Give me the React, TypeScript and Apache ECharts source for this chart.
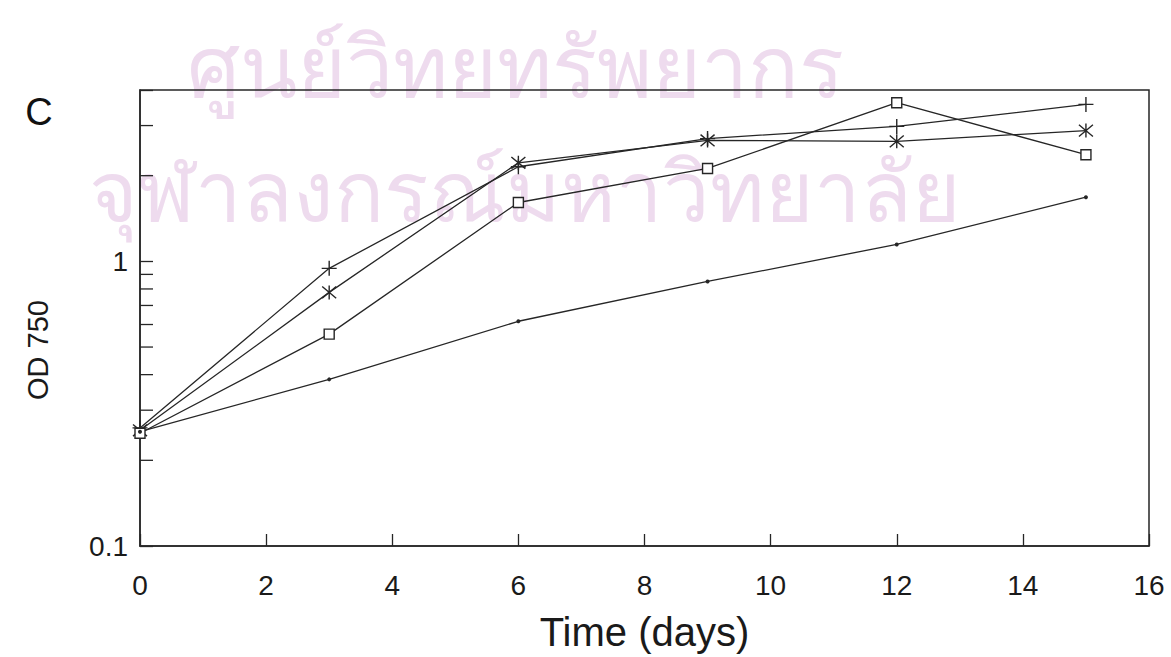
import React, { useEffect, useRef } from "react";
import * as echarts from "echarts";

const days = [0, 3, 6, 9, 12, 15];
const plusSeries = [0.26, 0.945, 2.15, 2.7, 2.98, 3.56];
const starSeries = [0.255, 0.778, 2.22, 2.66, 2.64, 2.88];
const squareSeries = [0.249, 0.555, 1.61, 2.12, 3.61, 2.37];
const dotSeries = [0.252, 0.385, 0.616, 0.85, 1.147, 1.68];
const yMinorTicks = [0.2, 0.3, 0.4, 0.5, 0.6, 0.7, 0.8, 0.9, 2, 3];
const xTickLabels = ["0", "2", "4", "6", "8", "10", "12", "14", "16"];
const watermark1 = "ศูนย์วิทยทรัพยากร";
const watermark2 = "จุฬาลงกรณ์มหาวิทยาลัย";

const INK = "#262626";
const FONT = "'Liberation Sans', Arial, Helvetica, sans-serif";

function pairs(vals: number[]) {
  return days.map((d, i) => [d, vals[i]]);
}

export default function App() {
  const ref = useRef<HTMLDivElement>(null);
  useEffect(() => {
    if (!ref.current) return;
    const chart = echarts.init(ref.current, undefined, { renderer: "svg" });
    const lineBase = {
      type: "line" as const,
      lineStyle: { color: INK, width: 1.3 },
      z: 3,
    };
    chart.setOption({
      animation: false,
      backgroundColor: "#fff",
      grid: {
        left: 140,
        right: 22,
        top: 90,
        bottom: 110,
        show: true,
        borderColor: INK,
        borderWidth: 1.5,
        backgroundColor: "transparent",
      },
      graphic: [
        {
          type: "text",
          z: -10,
          x: 515,
          y: 64,
          style: {
            text: watermark1,
            align: "center",
            verticalAlign: "middle",
            fontSize: 84,
            fontFamily: "'Noto Sans', sans-serif",
            fill: "#eedbee",
          },
        },
        {
          type: "text",
          z: -10,
          x: 525,
          y: 188,
          style: {
            text: watermark2,
            align: "center",
            verticalAlign: "middle",
            fontSize: 83,
            fontFamily: "'Noto Sans', sans-serif",
            fill: "#eedbee",
          },
        },
        {
          type: "text",
          x: 39,
          y: 112,
          style: {
            text: "C",
            align: "center",
            verticalAlign: "middle",
            fontSize: 38,
            fontFamily: FONT,
            fill: "#111",
          },
        },
        {
          type: "text",
          x: 38,
          y: 350,
          rotation: Math.PI / 2,
          style: {
            text: "OD 750",
            align: "center",
            verticalAlign: "middle",
            fontSize: 29,
            fontFamily: FONT,
            fill: "#1a1a1a",
          },
        },
      ],
      xAxis: {
        type: "value",
        min: 0,
        max: 16,
        interval: 2,
        name: "Time (days)",
        nameLocation: "middle",
        nameGap: 66,
        nameTextStyle: { fontSize: 40, fontFamily: FONT, color: "#1a1a1a" },
        axisLine: { show: true, lineStyle: { color: INK, width: 1.5 } },
        axisTick: { show: true, inside: true, length: 12, lineStyle: { color: INK, width: 1.3 } },
        axisLabel: {
          fontSize: 28,
          fontFamily: FONT,
          color: "#1a1a1a",
          margin: 25,
          formatter: (v: number) => xTickLabels[Math.round(v / 2)] ?? "",
        },
        splitLine: { show: false },
      },
      yAxis: {
        type: "log",
        logBase: 10,
        min: 0.1,
        max: 4,
        axisLine: { show: true, lineStyle: { color: INK, width: 1.5 } },
        axisTick: { show: true, inside: true, length: 13, lineStyle: { color: INK, width: 1.3 } },
        axisLabel: {
          fontSize: 28,
          fontFamily: FONT,
          color: "#1a1a1a",
          margin: 12,
          formatter: (v: number) => {
            if (Math.abs(v - 0.1) < 1e-6) return "0.1";
            if (Math.abs(v - 1) < 1e-6) return "1";
            return "";
          },
        },
        splitLine: { show: false },
      },
      series: [
        {
          type: "custom",
          silent: true,
          clip: false,
          z: 2,
          data: yMinorTicks.map((v) => [0, v]),
          renderItem: (params: any, api: any) => {
            const p = api.coord([api.value(0), api.value(1)]);
            return {
              type: "line",
              shape: { x1: p[0], y1: p[1], x2: p[0] + 13, y2: p[1] },
              style: { stroke: INK, lineWidth: 1.3 },
            };
          },
        },
        {
          ...lineBase,
          name: "plus",
          data: pairs(plusSeries),
          symbol: "path://M5,0L5,10M0,5L10,5",
          symbolSize: 15,
          itemStyle: { color: "none", borderColor: INK, borderWidth: 1.4 },
        },
        {
          ...lineBase,
          name: "star",
          data: pairs(starSeries),
          symbol: "path://M0,0L10,10M10,0L0,10M5,-1L5,11",
          symbolSize: 14,
          itemStyle: { color: "none", borderColor: INK, borderWidth: 1.4 },
        },
        {
          ...lineBase,
          name: "square",
          data: pairs(squareSeries),
          symbol: "rect",
          symbolSize: 10,
          itemStyle: { color: "#fff", borderColor: INK, borderWidth: 1.4 },
        },
        {
          ...lineBase,
          name: "dot",
          data: pairs(dotSeries),
          symbol: "circle",
          symbolSize: 4,
          itemStyle: { color: INK },
        },
      ],
    });
    return () => chart.dispose();
  }, []);
  return (
    <div
      ref={ref}
      style={{ position: "absolute", left: 0, top: 0, width: 1171, height: 657 }}
    />
  );
}
